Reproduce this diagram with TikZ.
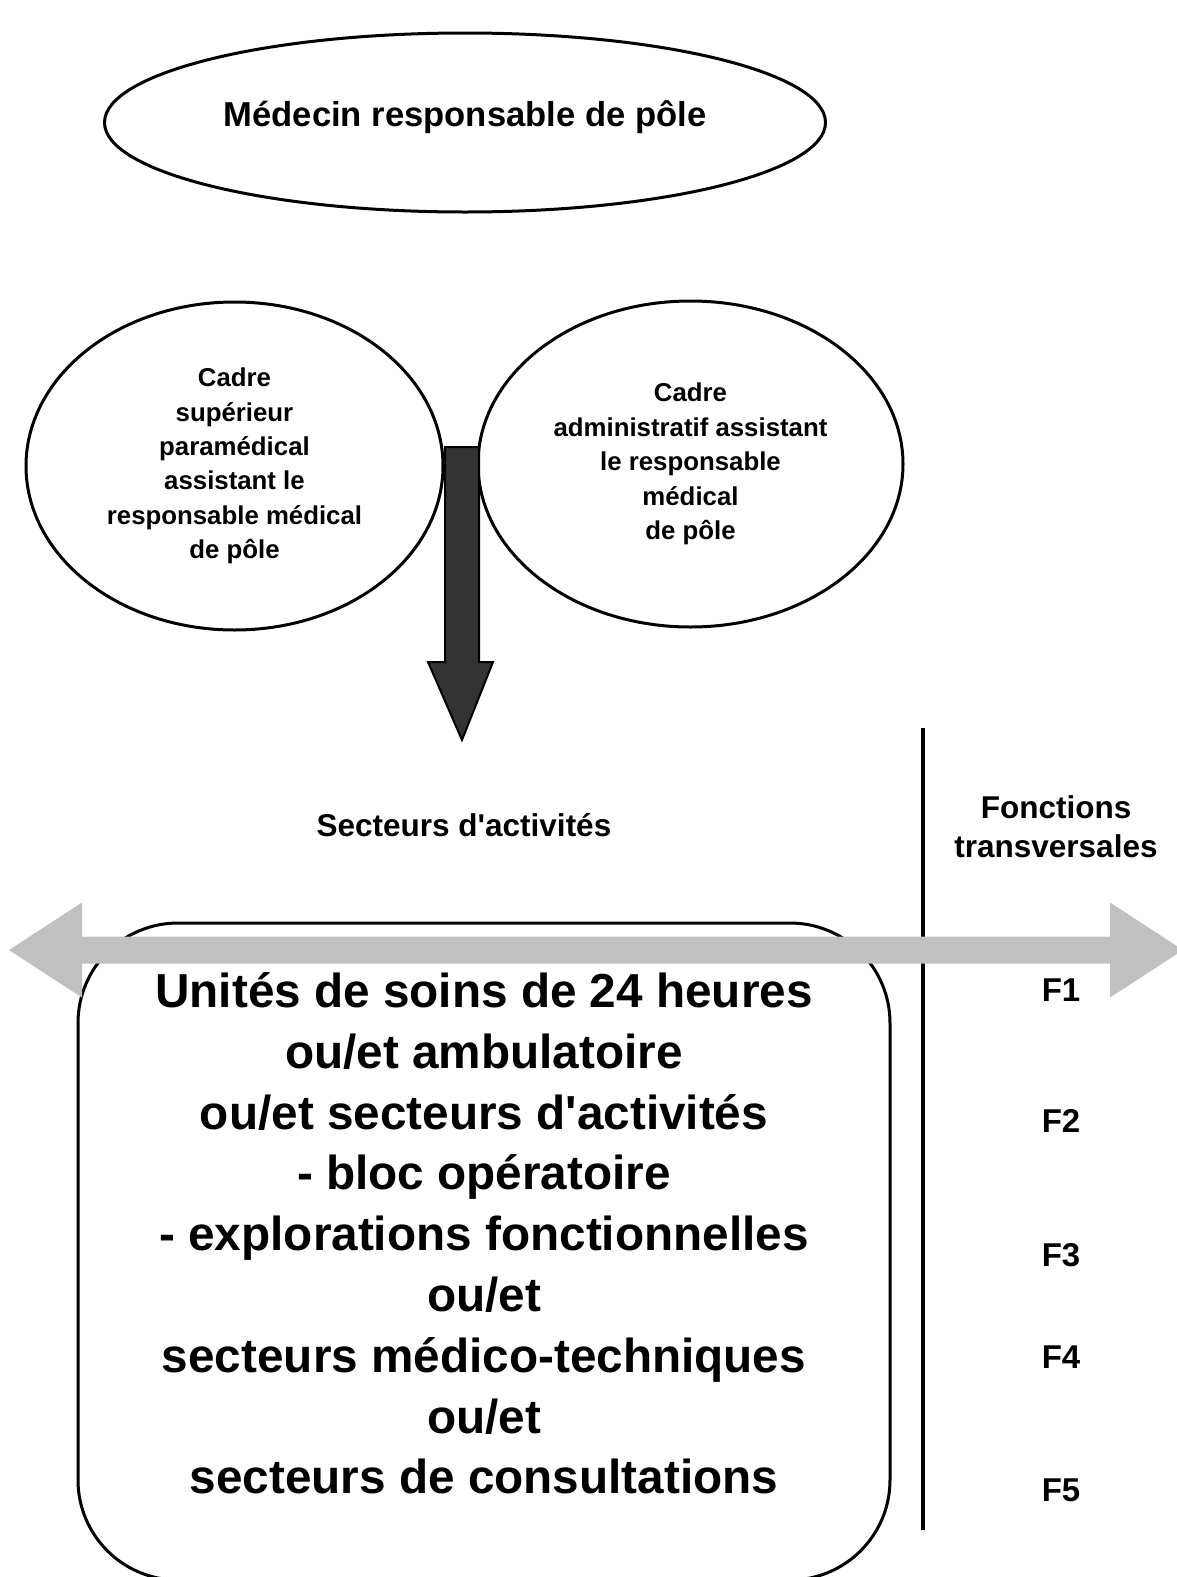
\documentclass[tikz,border=0pt]{standalone}
\usepackage{fontspec}
\setmainfont{Liberation Sans}
\usepackage{xcolor}
\definecolor{fonce}{HTML}{333333}
\definecolor{gris}{HTML}{C0C0C0}
\usetikzlibrary{shapes.geometric}

\begin{document}
\begin{tikzpicture}[x=1pt, y=-1pt,
  bulle/.style={draw, ellipse, line width=3pt, inner sep=0pt, align=center},
  petit/.style={font=\bfseries\fontsize{25.8}{34.4}\selectfont},
  moyen/.style={font=\bfseries\fontsize{31.5}{39}\selectfont, align=center},
  grand/.style={font=\bfseries\fontsize{47.7}{60.8}\selectfont, align=center},
  flabel/.style={font=\bfseries\fontsize{33}{40}\selectfont},
  cadrebox/.style={draw, line width=3pt, rounded corners=100pt,
                   minimum width=812pt, minimum height=657pt},
  fleche/.style={draw=black, line width=2pt, fill=fonce},
  flechegrise/.style={fill=gris}]
  \useasboundingbox (0,0) rectangle (1177,1577);

  \node[bulle, minimum width=721pt, minimum height=179pt,
        font=\bfseries\fontsize{34.6}{40}\selectfont,
        text height=26pt, text depth=19pt] (chef) at (465,122.5)
        {Médecin responsable de pôle};

  \node[bulle, petit, minimum width=417pt, minimum height=328pt] (cadresup) at (234.5,466) {
    Cadre\\
    supérieur\\
    paramédical\\
    assistant le\\
    responsable médical\\
    de pôle};
  \node[bulle, petit, minimum width=425pt, minimum height=326pt] (cadreadm) at (690.5,464) {
    Cadre\\
    administratif assistant\\
    le responsable\\
    médical\\
    de pôle};

  \node[cadrebox] (unites) at (484,1251.5) {};
  \node[grand] (unitestxt) at (484,1233.5) {
    Unités de soins de 24 heures\\
    ou/et ambulatoire\\
    ou/et secteurs d\textquotesingle activités\\
    - bloc opératoire\\
    - explorations fonctionnelles\\
    ou/et\\
    secteurs médico-techniques\\
    ou/et\\
    secteurs de consultations};

  \coordinate (vhaut) at (923,728);
  \coordinate (vbas) at (923,1530);
  \draw[line width=3.5pt] (vhaut) -- (vbas);

  \node[moyen] (secteurs) at (464,825.5) {Secteurs d\textquotesingle activités};
  \node[moyen] (fonctions) at (1056,827) {Fonctions\\transversales};

  \coordinate (arrtop) at (462,447);
  \coordinate (arrtip) at (462,740);
  \draw[fleche] (arrtop) ++(-17,0) -- ++(34,0) -- ++(0,215) -- ++(14,0) -- (arrtip)
    -- ++(-34,-78) -- ++(17,0) -- cycle;

  \coordinate (gauche) at (9,950);
  \coordinate (droite) at (1183,950);
  \fill[flechegrise] (gauche) -- ++(73,-47.5) -- ++(0,34) -- (1110,936.5) -- ++(0,-34)
    -- (droite) -- ++(-73,47.5) -- ++(0,-34) -- (82,963.5) -- ++(0,34) -- cycle;

  \foreach \i/\y in {1/990,2/1121,3/1255,4/1357,5/1490}
    \node[flabel] (f\i) at (1061,\y) {F\i};
\end{tikzpicture}
\end{document}
